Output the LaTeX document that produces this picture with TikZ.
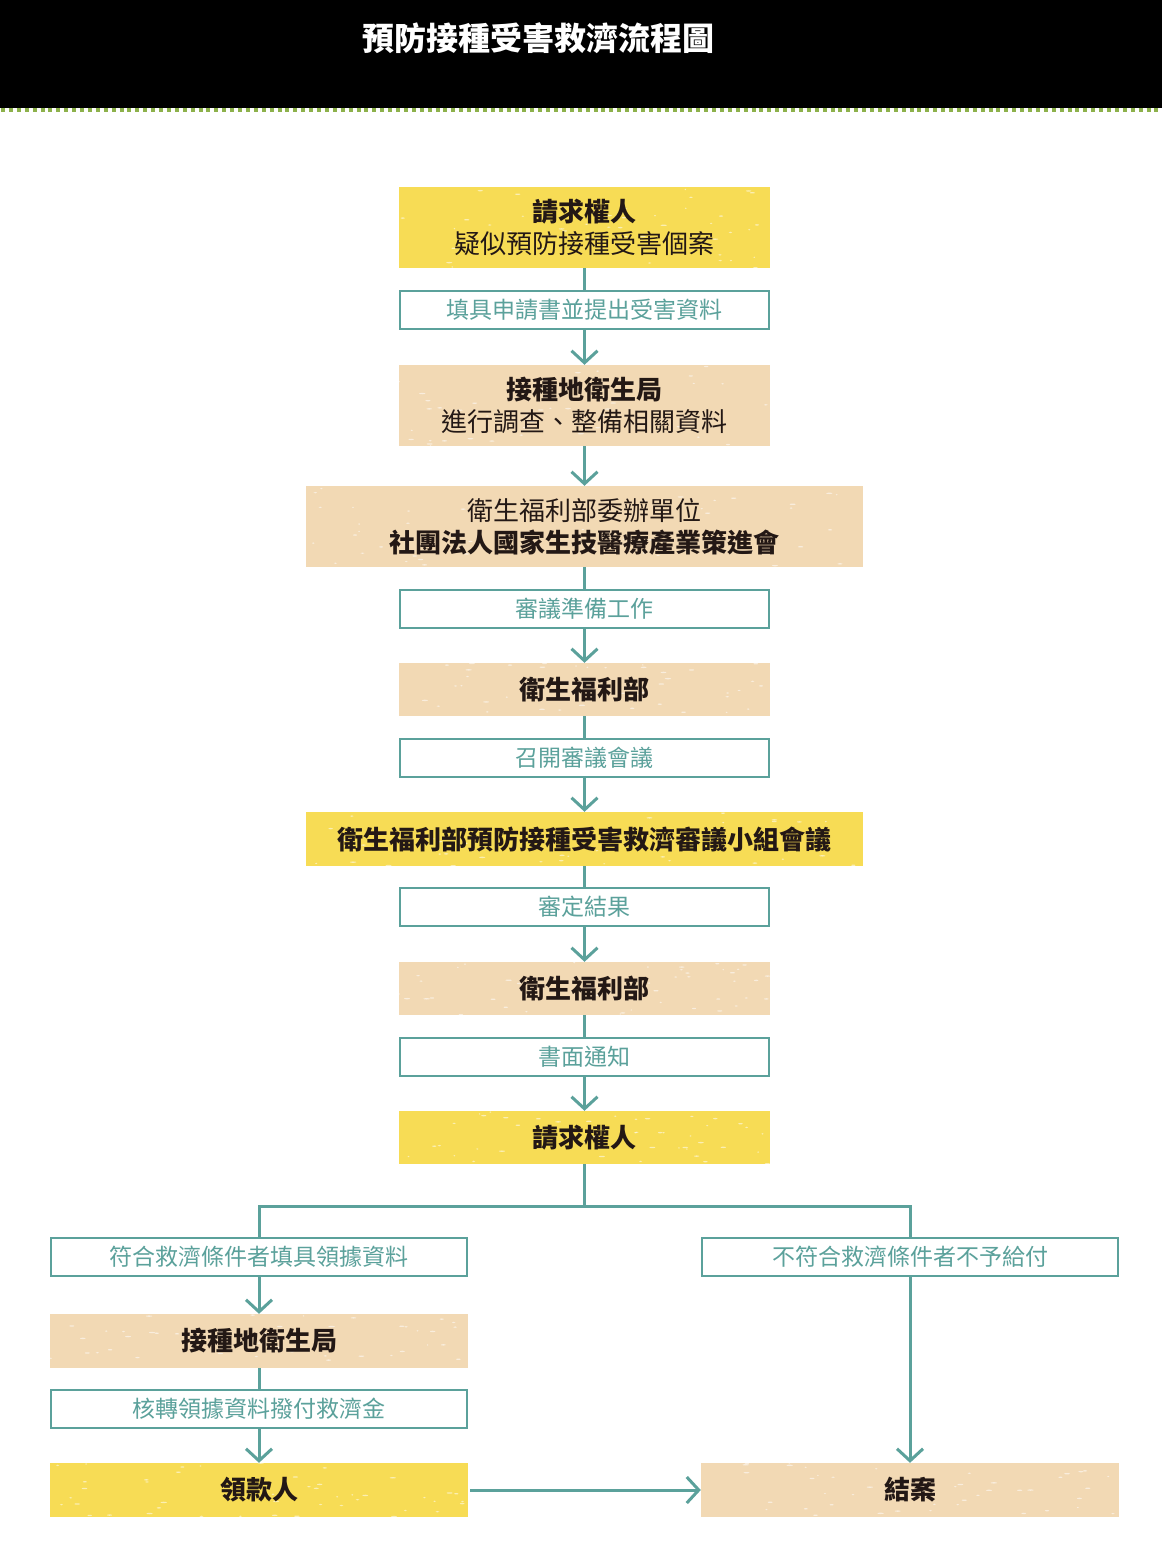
\documentclass[tikz,border=0pt]{standalone}
\usepackage{fontspec}
\setmainfont{Noto Sans CJK TC}
\usetikzlibrary{arrows.meta,calc}
\definecolor{cyel}{HTML}{F7DC55}
\definecolor{ctan}{HTML}{F2D9B4}
\definecolor{cteal}{HTML}{5BA19B}
\definecolor{cdark}{HTML}{231815}
\definecolor{cgreen}{HTML}{8DB14B}
\begin{document}
\begin{tikzpicture}[x=1pt,y=-1pt,
  speck/.style={path picture={
    \foreach \k in {1,...,45}{
      \pgfmathsetmacro\rx{rnd}\pgfmathsetmacro\ry{rnd}\pgfmathsetmacro\rw{0.8+2.5*rnd}
      \fill[white,opacity=0.55] let \p1=(path picture bounding box.south west), \p2=(path picture bounding box.north east) in
        ({\x1+\rx*(\x2-\x1)},{\y1+\ry*(\y2-\y1)}) ellipse [x radius=\rw pt, y radius=0.7pt];
    }}},
  box/.style={inner sep=0pt, align=center, text=cdark, font=\fontsize{26}{32}\selectfont, speck},
  yel/.style={box, fill=cyel},
  tanb/.style={box, fill=ctan},
  lab/.style={draw=cteal, line width=2pt, fill=white, inner sep=0pt, text=cteal,
    font=\fontsize{23}{28}\selectfont, minimum height=38pt},
  conn/.style={draw=cteal, line width=3pt},
  arr/.style={conn, -{Straight Barb[length=12pt,width=26pt]}},
]
\useasboundingbox (0,0) rectangle (1162,1566);
\fill[white] (0,0) rectangle (1162,1566);
% header
\fill[black] (0,0) rectangle (1162,108);
\draw[cgreen, line width=4pt, dash pattern=on 4pt off 3.9pt] (1,110) -- (1162,110);
\node[text=white, font=\fontsize{32}{36}\selectfont\bfseries, inner sep=0pt] (title) at (538.5,38) {預防接種受害救濟流程圖};

% main column
\node[yel, minimum width=371pt, minimum height=81pt] (n1) at (584.5,227.5) {\textbf{請求權人}\\疑似預防接種受害個案};
\node[lab, minimum width=369pt] (l1) at (584.5,310) {填具申請書並提出受害資料};
\node[tanb, minimum width=371pt, minimum height=81pt] (n2) at (584.5,405.5) {\textbf{接種地衛生局}\\進行調查、整備相關資料};
\node[tanb, minimum width=557pt, minimum height=81pt] (n3) at (584.5,526.5) {衛生福利部委辦單位\\\textbf{社團法人國家生技醫療產業策進會}};
\node[lab, minimum width=369pt] (l2) at (584.5,609) {審議準備工作};
\node[tanb, minimum width=371pt, minimum height=53pt] (n4) at (584.5,689.5) {\textbf{衛生福利部}};
\node[lab, minimum width=369pt] (l3) at (584.5,758) {召開審議會議};
\node[yel, minimum width=557pt, minimum height=54pt] (n5) at (584.5,839) {\textbf{衛生福利部預防接種受害救濟審議小組會議}};
\node[lab, minimum width=369pt] (l4) at (584.5,907) {審定結果};
\node[tanb, minimum width=371pt, minimum height=53pt] (n6) at (584.5,988.5) {\textbf{衛生福利部}};
\node[lab, minimum width=369pt] (l5) at (584.5,1057) {書面通知};
\node[yel, minimum width=371pt, minimum height=53pt] (n7) at (584.5,1137.5) {\textbf{請求權人}};

% left branch
\node[lab, minimum width=416pt] (l6) at (259,1257) {符合救濟條件者填具領據資料};
\node[tanb, minimum width=418pt, minimum height=54pt] (n8) at (259,1341) {\textbf{接種地衛生局}};
\node[lab, minimum width=416pt] (l7) at (259,1409) {核轉領據資料撥付救濟金};
\node[yel, minimum width=418pt, minimum height=54pt] (n9) at (259,1490) {\textbf{領款人}};

% right branch
\node[lab, minimum width=416pt] (l8) at (910,1257) {不符合救濟條件者不予給付};
\node[tanb, minimum width=418pt, minimum height=54pt] (n10) at (910,1490) {\textbf{結案}};

% connectors
\draw[conn] (n1) -- (l1);
\draw[arr] (l1) -- (n2);
\draw[arr] (n2) -- (n3);
\draw[conn] (n3) -- (l2);
\draw[arr] (l2) -- (n4);
\draw[conn] (n4) -- (l3);
\draw[arr] (l3) -- (n5);
\draw[conn] (n5) -- (l4);
\draw[arr] (l4) -- (n6);
\draw[conn] (n6) -- (l5);
\draw[arr] (l5) -- (n7);
\coordinate (split) at (584.5,1206);
\draw[conn] (n7.south) -- (split);
\draw[conn] (l6.north) |- (split) -| (l8.north);
\draw[arr] (l6) -- (n8);
\draw[conn] (n8) -- (l7);
\draw[arr] (l7) -- (n9);
\draw[arr] (l8) -- (n10);
\draw[arr] ([xshift=2pt]n9.east) -- (n10.west);
\end{tikzpicture}
\end{document}
